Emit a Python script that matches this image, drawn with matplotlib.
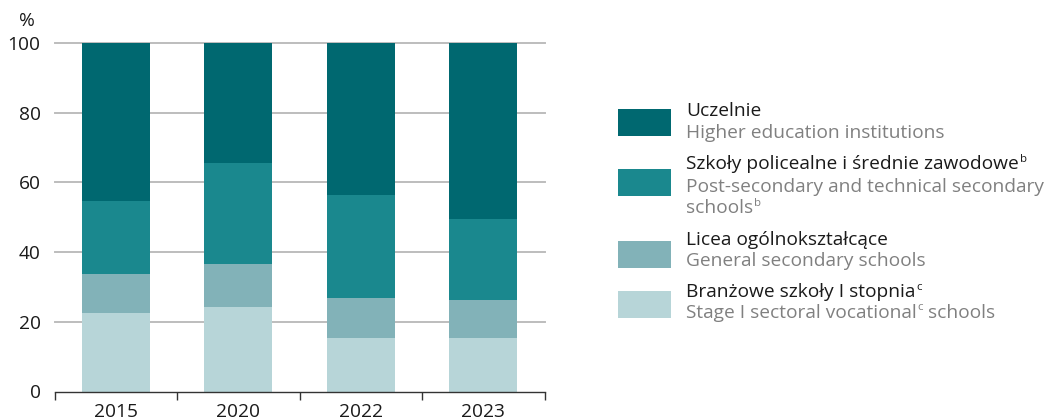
import matplotlib
matplotlib.use("Agg")
import matplotlib.pyplot as plt
from matplotlib.patches import Rectangle
import numpy as np

years = ["2015", "2020", "2022", "2023"]
branzowe = [22.5, 24.3, 15.3, 15.3]
licea = [11.1, 12.4, 11.5, 11.0]
policealne = [21.0, 28.8, 29.6, 23.1]
uczelnie = [45.4, 34.5, 43.6, 50.6]

series = [branzowe, licea, policealne, uczelnie]
colors = ["#b7d5d8", "#82b2b8", "#1a888e", "#006870"]
# each label: list of lines; each line: (text, superscript or "", trailing text)
labels_pl = [("Branżowe szkoły I stopnia", "c", ""),
             ("Licea ogólnokształcące", "", ""),
             ("Szkoły policealne i średnie zawodowe", "b", ""),
             ("Uczelnie", "", "")]
labels_en = [[("Stage I sectoral vocational", "c", " schools")],
             [("General secondary schools", "", "")],
             [("Post-secondary and technical secondary", "", ""), ("schools", "b", "")],
             [("Higher education institutions", "", "")]]
yticks = [0, 20, 40, 60, 80, 100]

plt.rcParams['font.family'] = ['Open Sans', 'DejaVu Sans']

W, H = 1045, 420
FS = 13.8
fig = plt.figure(figsize=(W / 100, H / 100), dpi=100)

def fx(px):
    return px / W

def fy(py):
    return 1 - py / H

ax_left, ax_right, ax_bottom, ax_top = 54.5, 544.5, 391.5, 43
ax = fig.add_axes([fx(ax_left), fy(ax_bottom), fx(ax_right - ax_left), (ax_bottom - ax_top) / H])

x = np.arange(len(years))
bottom = np.zeros(len(years))
for vals, c in zip(series, colors):
    ax.bar(x, vals, width=0.555, bottom=bottom, color=c, zorder=3, linewidth=0)
    bottom += np.array(vals)

ax.set_xlim(-0.5, len(years) - 0.5)
ax.set_ylim(0, 100)
ax.set_yticks(yticks)
ax.set_yticklabels([str(v) for v in yticks], fontsize=FS, color="#1a1a1a")
for v in yticks[1:]:
    ax.axhline(v, color="#bdbdbd", linewidth=1.4, zorder=1, clip_on=False)
ax.tick_params(axis='y', length=0, pad=10)

ax.set_xticks(x)
ax.set_xticklabels(years, fontsize=FS, color="#1a1a1a")
ax.set_xticks(np.arange(-0.5, len(years)), minor=True)
ax.tick_params(axis='x', which='major', length=0, pad=8)
ax.tick_params(axis='x', which='minor', length=6, width=1, color="#333333", direction='out')

for s in ['top', 'right', 'left']:
    ax.spines[s].set_visible(False)
ax.spines['bottom'].set_color("#333333")
ax.spines['bottom'].set_linewidth(1)
ax.spines['bottom'].set_zorder(4)

fig.text(fx(27), fy(21), "%", fontsize=FS, color="#1a1a1a", ha='center', va='center')

renderer = fig.canvas.get_renderer()

def draw_line(xpx, ypx, parts, color):
    base, sup, tail = parts
    t = fig.text(fx(xpx), fy(ypx), base, fontsize=FS, color=color, ha='left', va='center')
    if not sup:
        return
    bb = t.get_window_extent(renderer)
    sx = bb.x1 + 1
    st = fig.text(sx / W, fy(ypx - 5), sup, fontsize=FS * 0.6, color=color,
                  ha='left', va='center')
    if tail:
        sb = st.get_window_extent(renderer)
        fig.text((sb.x1) / W, fy(ypx), tail, fontsize=FS, color=color,
                 ha='left', va='center')

# legend (top to bottom: Uczelnie first)
patch_tops = [109, 169, 241, 291]
text_ys = [110.5, 164, 240, 292]
en_ys = [133, 186.5, 261.5, 313]
order = [3, 2, 1, 0]
for k, i in enumerate(order):
    fig.add_artist(Rectangle((fx(618), fy(patch_tops[k] + 27)), fx(53), 27 / H,
                             transform=fig.transFigure, facecolor=colors[i], edgecolor='none'))
    draw_line(686, text_ys[k], labels_pl[i], "#1a1a1a")
    for j, line in enumerate(labels_en[i]):
        draw_line(686, en_ys[k] + 21.5 * j, line, "#808080")

fig.savefig("out.png", dpi=100)
